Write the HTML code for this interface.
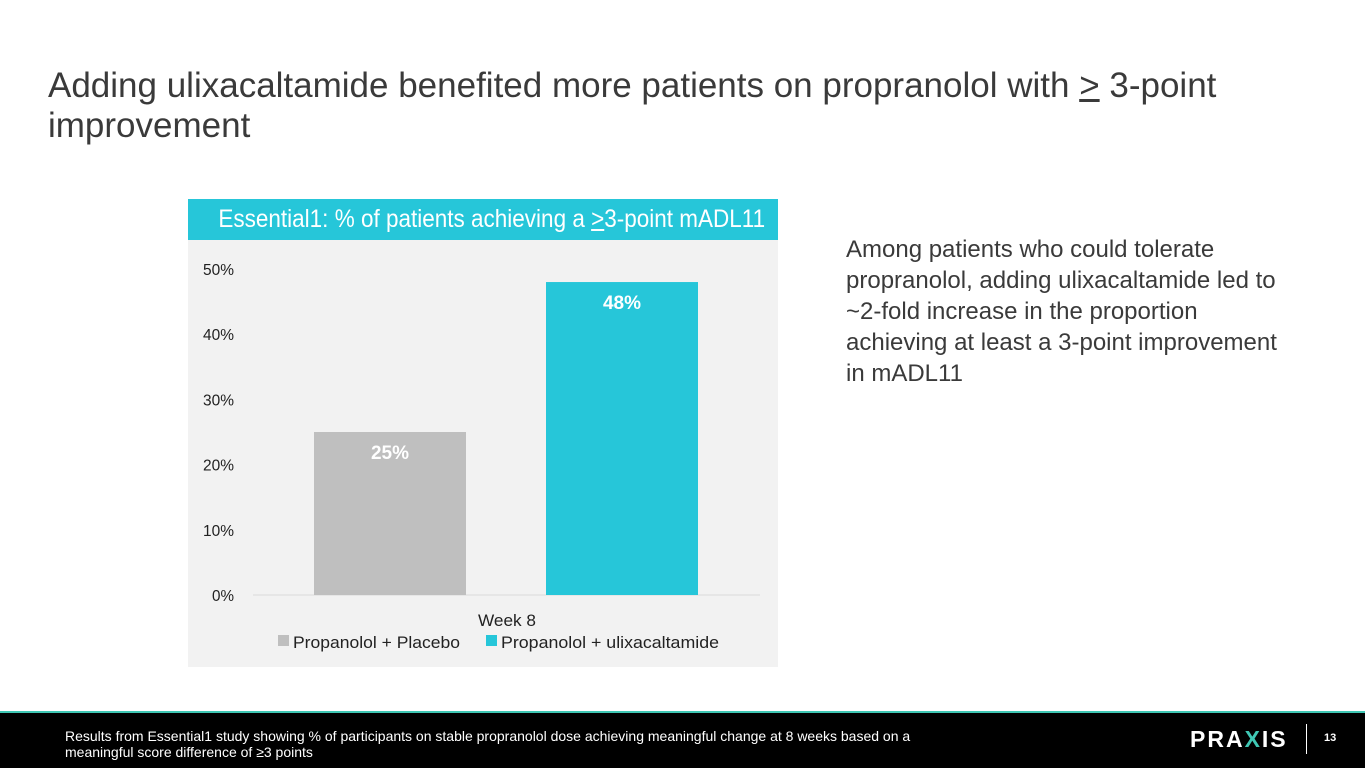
<!DOCTYPE html>
<html><head><meta charset="utf-8"><style>
body{margin:0;width:1365px;height:768px;background:#fff;position:relative;overflow:hidden;font-family:"Liberation Sans",sans-serif}
.abs{position:absolute}
</style></head><body>
<div class="abs" style="left:48px;top:66px;font-size:35px;line-height:40px;color:#3a3a3a;width:1250px">Adding ulixacaltamide benefited more patients on propranolol with <u>&gt;</u> 3-point improvement</div>

<div class="abs" style="left:188px;top:199px;width:590px;height:468px;background:#f2f2f2"></div>
<div class="abs" style="left:188px;top:199px;width:590px;height:41px;background:#26c6d9;color:#fff;font-size:25px;line-height:41px;text-align:center;white-space:nowrap"><span style="display:inline-block;transform:scaleX(0.9)">Essential1: % of patients achieving a <u>&gt;</u>3-point mADL11</span></div>

<svg class="abs" style="left:0;top:0" width="1365" height="768" id="chart"></svg>

<div class="abs" style="left:846px;top:234px;font-size:24px;line-height:31px;color:#3a3a3a;width:445px">Among patients who could tolerate propranolol, adding ulixacaltamide led to ~2-fold increase in the proportion achieving at least a 3-point improvement in mADL11</div>

<div class="abs" style="left:0;top:711px;width:1365px;height:57px;background:#000;border-top:2px solid #3fc7b4;box-sizing:border-box"></div>
<div class="abs" style="left:65px;top:728px;font-size:14px;line-height:16px;color:#fff;width:860px">Results from Essential1 study showing % of participants on stable propranolol dose achieving meaningful change at 8 weeks based on a meaningful score difference of ≥3 points</div>
<div class="abs" style="left:1190px;top:726px;font-size:23px;font-weight:bold;color:#fff;letter-spacing:2px">PRA<span style="color:#3fc7b4">X</span>IS</div>
<div class="abs" style="left:1306px;top:724px;width:1px;height:30px;background:#fff"></div>
<div class="abs" style="left:1324px;top:732px;font-size:11px;font-weight:bold;color:#fff">13</div>

<script>
const categories=["Week 8"];
const seriesNames=["Propanolol + Placebo","Propanolol + ulixacaltamide"];
const placebo=[25];
const ulix=[48];
const ticks=[0,10,20,30,40,50];
const colors=["#bfbfbf","#26c6d9"];
const NS="http://www.w3.org/2000/svg";
const svg=document.getElementById("chart");
const y0=595,y50=269;
function y(v){return y0-(v/50)*(y0-y50);}
function mk(t,a){const e=document.createElementNS(NS,t);for(const k in a)e.setAttribute(k,a[k]);svg.appendChild(e);return e;}
ticks.forEach(t=>{
 const e=mk("text",{x:234,y:y(t)+6,"text-anchor":"end","font-size":"16",fill:"#222","font-family":"Liberation Sans, sans-serif",textLength:(t==0?22:31),lengthAdjust:"spacingAndGlyphs"});
 e.textContent=t+"%";
 
 
});
const ax=mk("line",{x1:253,x2:760,y1:y0,y2:y0,stroke:"#d9d9d9","stroke-width":1});


const series=[placebo,ulix];
const bx=[314,546],bw=152;
series.forEach((s,i)=>{
 s.forEach((v,j)=>{
  const r=mk("rect",{x:bx[i],y:y(v),width:bw,height:y0-y(v),fill:colors[i]});
  
  
  const t=mk("text",{x:bx[i]+bw/2,y:y(v)+27,"text-anchor":"middle","font-size":"19","font-weight":"bold",fill:"#fff","font-family":"Liberation Sans, sans-serif"});
  t.textContent=v+"%";
  
  
 });
});
const c=mk("text",{x:507,y:626,"text-anchor":"middle","font-size":"17",fill:"#222","font-family":"Liberation Sans, sans-serif",textLength:58,lengthAdjust:"spacingAndGlyphs"});
c.textContent=categories[0];


const lx=[278,486];
seriesNames.forEach((n,i)=>{
 const r=mk("rect",{x:lx[i],y:635,width:11,height:11,fill:colors[i]});
 
 
 const t=mk("text",{x:lx[i]+15,y:648,"font-size":"17",fill:"#222","font-family":"Liberation Sans, sans-serif",textLength:(i==0?167:218),lengthAdjust:"spacingAndGlyphs"});
 t.textContent=n;
 
 
});
</script>
</body></html>
